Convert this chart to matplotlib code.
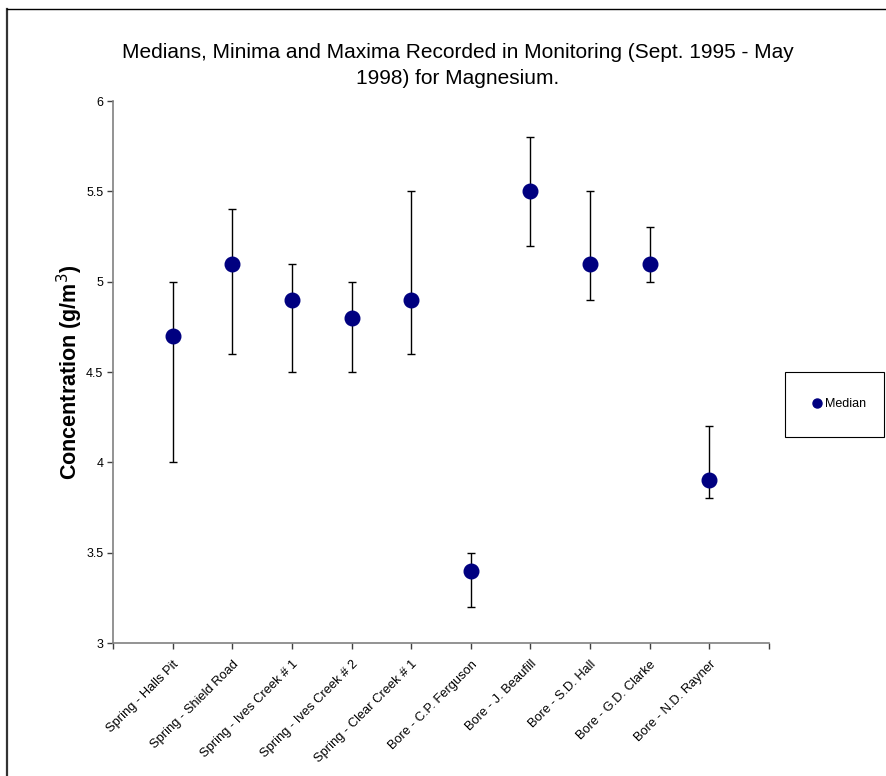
import matplotlib
matplotlib.use("Agg")
import matplotlib.pyplot as plt
from matplotlib.lines import Line2D
from matplotlib.patches import Rectangle

plt.rcParams['font.family'] = ['Liberation Sans', 'DejaVu Sans']

sites = [
    "Spring - Halls Pit",
    "Spring - Shield Road",
    "Spring - Ives Creek # 1",
    "Spring - Ives Creek # 2",
    "Spring - Clear Creek # 1",
    "Bore - C.P. Ferguson",
    "Bore - J. Beaufill",
    "Bore - S.D. Hall",
    "Bore - G.D. Clarke",
    "Bore - N.D. Rayner",
]
median = [4.7, 5.1, 4.9, 4.8, 4.9, 3.4, 5.5, 5.1, 5.1, 3.9]
minimum = [4.0, 4.6, 4.5, 4.5, 4.6, 3.2, 5.2, 4.9, 5.0, 3.8]
maximum = [5.0, 5.4, 5.1, 5.0, 5.5, 3.5, 5.8, 5.5, 5.3, 4.2]

W, H = 886, 776
fig = plt.figure(figsize=(W / 100, H / 100), dpi=100)
ax = fig.add_axes([113 / W, 1 - 643 / H, (769 - 113) / W, (643 - 101) / H])

x = list(range(1, len(sites) + 1))
lower = [m - lo for m, lo in zip(median, minimum)]
upper = [hi - m for m, hi in zip(median, maximum)]

ax.errorbar(x, median, yerr=[lower, upper], fmt='none', ecolor='black',
            elinewidth=1.0, capsize=3.0, capthick=1.0, zorder=2)
ax.plot(x, median, linestyle='none', marker='o', markersize=10.5,
        color='#000080', markeredgecolor='#000080', zorder=3)

ax.set_xlim(0, len(sites) + 1)
ax.set_ylim(3, 6)
ax.set_yticks([3, 3.5, 4, 4.5, 5, 5.5, 6])
ax.set_yticklabels(['3', '3.5', '4', '4.5', '5', '5.5', '6'], fontsize=9)
ax.set_xticks(range(0, len(sites) + 2))
ax.set_xticklabels([''] + sites + [''], fontsize=9.3, rotation=45,
                   ha='right', rotation_mode='anchor')

for side in ('top', 'right'):
    ax.spines[side].set_visible(False)
for side in ('left', 'bottom'):
    ax.spines[side].set_color('#808080')
    ax.spines[side].set_linewidth(1.2)
ax.tick_params(axis='both', direction='out', length=4, width=1,
               color='#404040', pad=3)
ax.tick_params(axis='x', pad=7)

ax.set_ylabel('Concentration (g/m$^3$)', fontsize=15.5, fontweight='bold',
              labelpad=1)

fig.text(458 / W, 1 - 52 / H,
         'Medians, Minima and Maxima Recorded in Monitoring (Sept. 1995 - May',
         ha='center', va='center', fontsize=15)
fig.text(458 / W, 1 - 79 / H, '1998) for Magnesium.',
         ha='center', va='center', fontsize=15)

# legend box on the right
handle = Line2D([], [], linestyle='none', marker='o', markersize=6.5,
                color='#000080')
leg = fig.legend([handle], ['Median'], loc='center',
                 bbox_to_anchor=(838 / W, 1 - 404 / H), fontsize=9,
                 frameon=False, handletextpad=0.15, borderpad=0.3,
                 handlelength=1.0)
fig.patches.append(Rectangle((785 / W, 1 - 437 / H), (884 - 785) / W,
                             (437 - 372) / H, transform=fig.transFigure,
                             fill=False, edgecolor='black', linewidth=0.8))

# outer chart frame
fig.add_artist(Line2D([6.5 / W, 6.5 / W], [0, 1 - 9 / H],
                      transform=fig.transFigure, color='#333333', linewidth=1.6))
fig.add_artist(Line2D([6.5 / W, 1], [1 - 9 / H, 1 - 9 / H],
                      transform=fig.transFigure, color='black', linewidth=1.0))

fig.savefig('out.png', dpi=100)
